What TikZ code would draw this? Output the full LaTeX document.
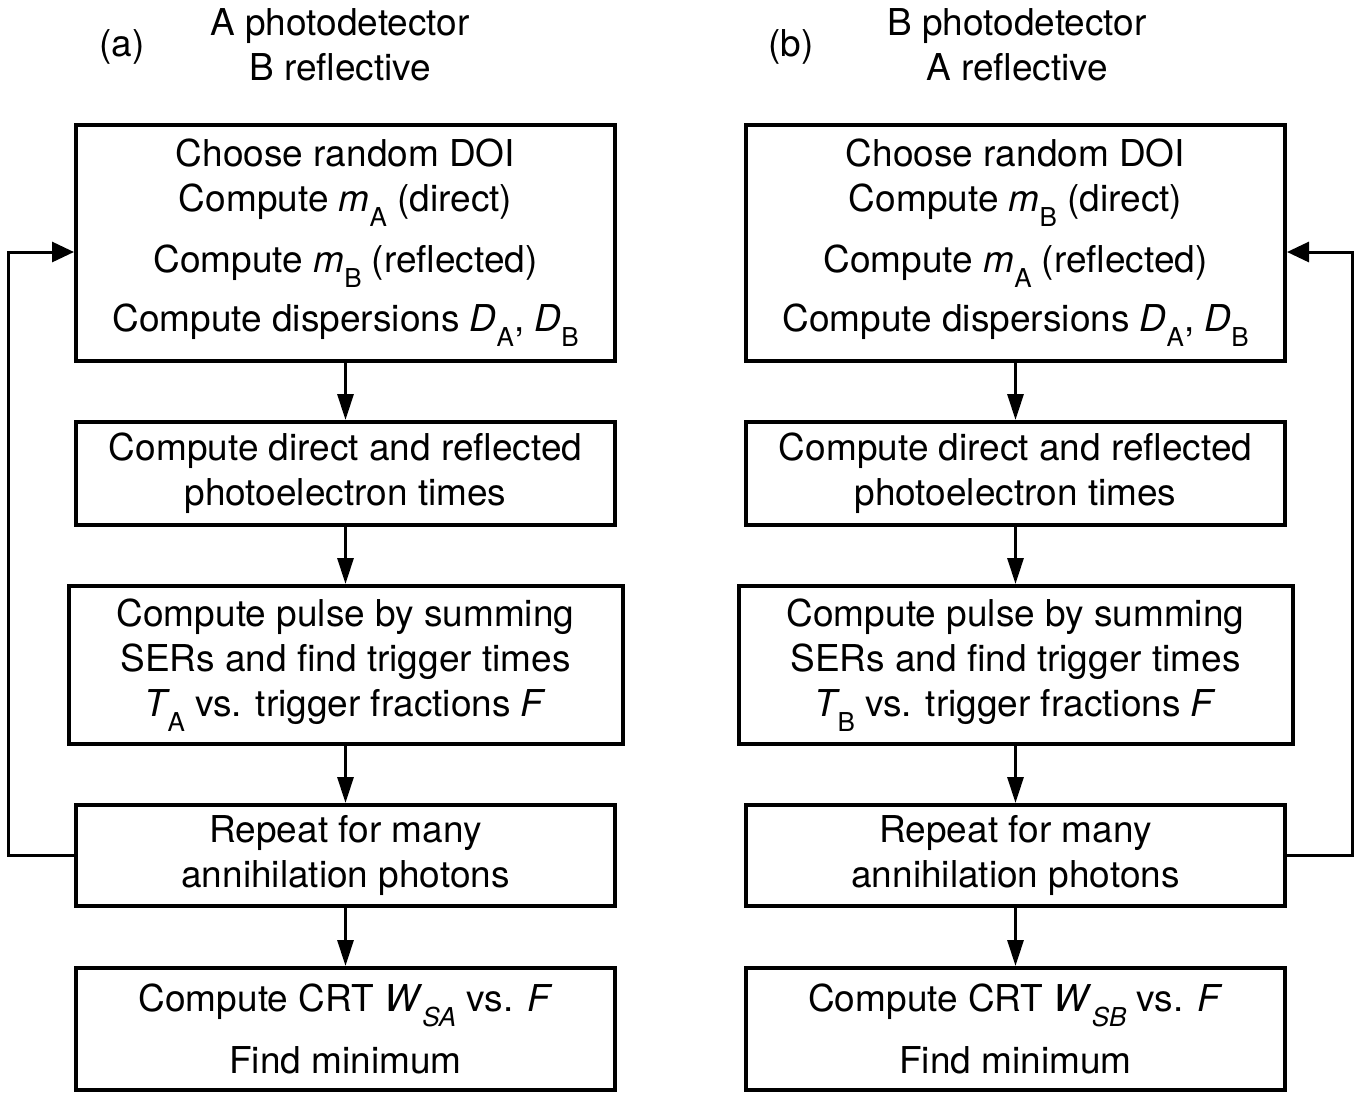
\documentclass[tikz,border=0pt]{standalone}
\usepackage{fontspec}
\setmainfont{TeX Gyre Heros}
\usetikzlibrary{arrows.meta,calc}
\newcommand\lowsub[1]{\raisebox{-7.5pt}{\fontsize{13}{13}\selectfont #1}}
\tikzset{
  box/.style={draw, line width=2pt, align=center, inner sep=0pt,
    font=\fontsize{18.5}{22.5}\selectfont},
  arr/.style={line width=1.5pt, -{Triangle[length=13pt,width=8pt]}},
  loop/.style={line width=1.5pt, -{Triangle[length=11pt,width=10pt]}},
  ttl/.style={align=center, inner sep=0pt, font=\fontsize{18.5}{22.5}\selectfont},
}
\begin{document}
\begin{tikzpicture}[x=0.5pt,y=-0.5pt]
\useasboundingbox (0,0) rectangle (1360,1094);
% ---- left panel
\node[ttl] (la) at (122,47) {(a)};
\node[ttl] (lt) at (340,45) {A photodetector\\B reflective};
\node[box, minimum width=269.5pt, minimum height=118pt] (A1) at (345.5,243)
  {Choose random DOI\\
   Compute \textit{m}\lowsub{A} (direct)\\[8pt]
   Compute \textit{m}\lowsub{B} (reflected)\\[7pt]
   Compute dispersions \textit{D}\lowsub{A}, \textit{D}\lowsub{B}};
\node[box, minimum width=269.5pt, minimum height=51.5pt] (A2) at (345.5,473.5)
  {Compute direct and reflected\\photoelectron times};
\node[box, minimum width=277pt, minimum height=79pt] (A3) at (345.5,665)
  {Compute pulse by summing\\SERs and find trigger times\\
   \textit{T}\kern-1.5pt\lowsub{A} vs. trigger fractions \textit{F}};
\node[box, minimum width=269.5pt, minimum height=50.5pt] (A4) at (345.5,855.5)
  {Repeat for many\\annihilation photons};
\node[box, minimum width=269.5pt, minimum height=61pt] (A5) at (345.5,1029)
  {Compute CRT \textit{W}\lowsub{\textit{SA}} vs. \textit{F}\\[8.5pt]Find minimum};
\draw[arr] (A1) -- (A2);
\draw[arr] (A2) -- (A3);
\draw[arr] (A3) -- (A4);
\draw[arr] (A4) -- (A5);
\draw[loop] (A4.west) -- ++(-66,0) |- ($(A1.west)+(0,9)$);
% ---- right panel
\node[ttl] (rb) at (791,47) {(b)};
\node[ttl] (rt) at (1017,45) {B photodetector\\A reflective};
\node[box, minimum width=269.5pt, minimum height=118pt] (B1) at (1015.5,243)
  {Choose random DOI\\
   Compute \textit{m}\lowsub{B} (direct)\\[8pt]
   Compute \textit{m}\lowsub{A} (reflected)\\[7pt]
   Compute dispersions \textit{D}\lowsub{A}, \textit{D}\lowsub{B}};
\node[box, minimum width=269.5pt, minimum height=51.5pt] (B2) at (1015.5,473.5)
  {Compute direct and reflected\\photoelectron times};
\node[box, minimum width=277pt, minimum height=79pt] (B3) at (1015.5,665)
  {Compute pulse by summing\\SERs and find trigger times\\
   \textit{T}\kern-1.5pt\lowsub{B} vs. trigger fractions \textit{F}};
\node[box, minimum width=269.5pt, minimum height=50.5pt] (B4) at (1015.5,855.5)
  {Repeat for many\\annihilation photons};
\node[box, minimum width=269.5pt, minimum height=61pt] (B5) at (1015.5,1029)
  {Compute CRT \textit{W}\lowsub{\textit{SB}} vs. \textit{F}\\[8.5pt]Find minimum};
\draw[arr] (B1) -- (B2);
\draw[arr] (B2) -- (B3);
\draw[arr] (B3) -- (B4);
\draw[arr] (B4) -- (B5);
\draw[loop] (B4.east) -- ++(65,0) |- ($(B1.east)+(0,9)$);
\end{tikzpicture}
\end{document}
